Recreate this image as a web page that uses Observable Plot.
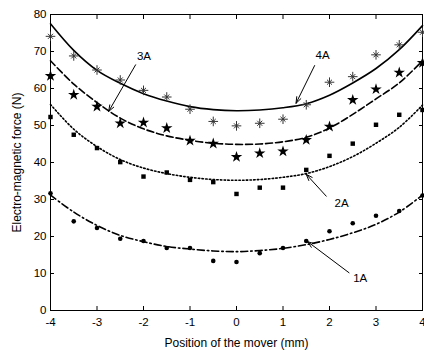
<!DOCTYPE html>
<html>
<head>
<meta charset="utf-8">
<script src="https://cdn.jsdelivr.net/npm/d3@7"></script>
<script src="https://cdn.jsdelivr.net/npm/@observablehq/plot@0.6"></script>
<style>
  html, body { margin: 0; padding: 0; background: #fff; }
</style>
</head>
<body>
<div id="chart"></div>
<script>
// Positions of the mover (mm)
const positions = [-4, -3.5, -3, -2.5, -2, -1.5, -1, -0.5, 0, 0.5, 1, 1.5, 2, 2.5, 3, 3.5, 4];

// Measured forces (N)
const meas4A = [74.1, 68.8, 65.0, 62.3, 59.5, 57.7, 54.4, 51.1, 49.9, 50.6, 51.7, 55.6, 61.7, 63.2, 69.1, 71.8, 75.2];
const meas3A = [63.4, 58.3, 55.1, 50.6, 50.8, 49.3, 45.9, 45.1, 41.5, 42.5, 43.0, 46.1, 49.7, 56.9, 59.8, 64.3, 66.9];
const meas2A = [52.3, 47.5, 43.9, 40.1, 36.2, 37.3, 35.3, 34.7, 31.5, 33.2, 33.2, 38.0, 41.8, 45.1, 50.2, 52.9, 54.2];
const meas1A = [31.7, 24.1, 22.3, 19.4, 18.8, 16.9, 16.9, 13.4, 13.1, 15.5, 16.9, 18.8, 21.4, 23.6, 25.6, 26.9, 31.1];

// Calculated forces (N)
const calc4A = [77.5, 70.3, 64.9, 61.4, 58.6, 56.6, 55.1, 54.3, 54.0, 54.2, 54.8, 55.9, 58.2, 61.5, 65.4, 70.5, 77.0];
const calc3A = [67.5, 61.2, 56.2, 52.0, 49.1, 47.2, 46.0, 45.2, 44.9, 45.0, 45.6, 46.8, 49.3, 53.0, 57.2, 61.5, 67.5];
const calc2A = [55.7, 49.0, 44.3, 40.8, 38.5, 37.0, 36.0, 35.4, 35.2, 35.4, 36.0, 37.0, 38.9, 41.6, 45.2, 49.5, 55.5];
const calc1A = [31.2, 26.6, 23.0, 20.3, 18.6, 17.3, 16.6, 16.1, 15.9, 16.2, 16.8, 17.8, 19.2, 21.0, 23.3, 26.6, 31.2];

// Annotations
const noteLabels = ["4A", "3A", "2A", "1A"];
const noteTextX = [1.85, -1.99, 2.26, 2.66];
const noteTextY = [69.0, 68.6, 29.0, 8.8];
const arrowX1 = [1.68, -2.17, 1.93, 2.42];
const arrowY1 = [66.2, 66.4, 30.9, 10.2];
const arrowX2 = [1.28, -2.75, 1.50, 1.53];
const arrowY2 = [56.0, 53.8, 36.8, 18.6];

const xTicks = [-4, -3, -2, -1, 0, 1, 2, 3, 4];
const yTicks = [0, 10, 20, 30, 40, 50, 60, 70, 80];

const toRows = (vals) => positions.map((x, i) => ({x, y: vals[i]}));
const notes = noteLabels.map((t, i) => ({
  text: t, tx: noteTextX[i], ty: noteTextY[i],
  x1: arrowX1[i], y1: arrowY1[i], x2: arrowX2[i], y2: arrowY2[i]
}));

const lineOpts = {x: "x", y: "y", stroke: "black", strokeWidth: 1.6, curve: "catmull-rom"};

const chart = Plot.plot({
  width: 424,
  height: 350,
  marginLeft: 50,
  marginRight: 2,
  marginTop: 14,
  marginBottom: 40,
  style: {fontFamily: "Liberation Sans, Arial, sans-serif", fontSize: "11.5px", background: "white", color: "black"},
  x: {domain: [-4, 4]},
  y: {domain: [0, 80]},
  marks: [
    Plot.frame({stroke: "black", strokeWidth: 1}),
    Plot.axisX({anchor: "bottom", ticks: xTicks, tickSize: -4, tickPadding: 11, tickFormat: d => d,
      label: null, fontSize: 11.5}),
    Plot.axisX({anchor: "bottom", ticks: [], tickSize: 0, label: "Position of the mover (mm)",
      labelAnchor: "center", labelOffset: 36, labelArrow: false, fontSize: 12}),
    Plot.axisX({anchor: "top", ticks: xTicks, tickSize: -4, tickFormat: () => "", label: null}),
    Plot.axisY({anchor: "left", ticks: yTicks, tickSize: -4, tickPadding: 8, tickFormat: d => d,
      label: null, fontSize: 11.5}),
    Plot.axisY({anchor: "left", ticks: [], tickSize: 0, label: "Electro-magnetic force (N)",
      labelAnchor: "center", labelOffset: 38, labelArrow: false, fontSize: 12}),
    Plot.axisY({anchor: "right", ticks: yTicks, tickSize: -4, tickFormat: () => "", label: null}),
    Plot.line(toRows(calc4A), {...lineOpts}),
    Plot.line(toRows(calc3A), {...lineOpts, strokeDasharray: "7,3"}),
    Plot.line(toRows(calc2A), {...lineOpts, strokeDasharray: "1.5,2.2"}),
    Plot.line(toRows(calc1A), {...lineOpts, strokeDasharray: "7,3,1.5,3"}),
    Plot.dot(toRows(meas4A), {x: "x", y: "y", symbol: "plus", r: 3.2, stroke: "#333", strokeWidth: 1}),
    Plot.dot(toRows(meas4A), {x: "x", y: "y", symbol: "times", r: 2.4, stroke: "#333", strokeWidth: 1}),
    Plot.dot(toRows(meas3A), {x: "x", y: "y", symbol: "star", r: 3.6, fill: "black", stroke: "none"}),
    Plot.dot(toRows(meas2A), {x: "x", y: "y", symbol: "square", r: 2.5, fill: "black", stroke: "none"}),
    Plot.dot(toRows(meas1A), {x: "x", y: "y", symbol: "circle", r: 2.3, fill: "black", stroke: "none"}),
    Plot.arrow(notes, {x1: "x1", y1: "y1", x2: "x2", y2: "y2", stroke: "black", strokeWidth: 1, headLength: 10, headAngle: 40}),
    Plot.text(notes, {x: "tx", y: "ty", text: "text", fontSize: 11.5, fill: "black"})
  ]
});
document.getElementById("chart").appendChild(chart);
</script>
</body>
</html>
